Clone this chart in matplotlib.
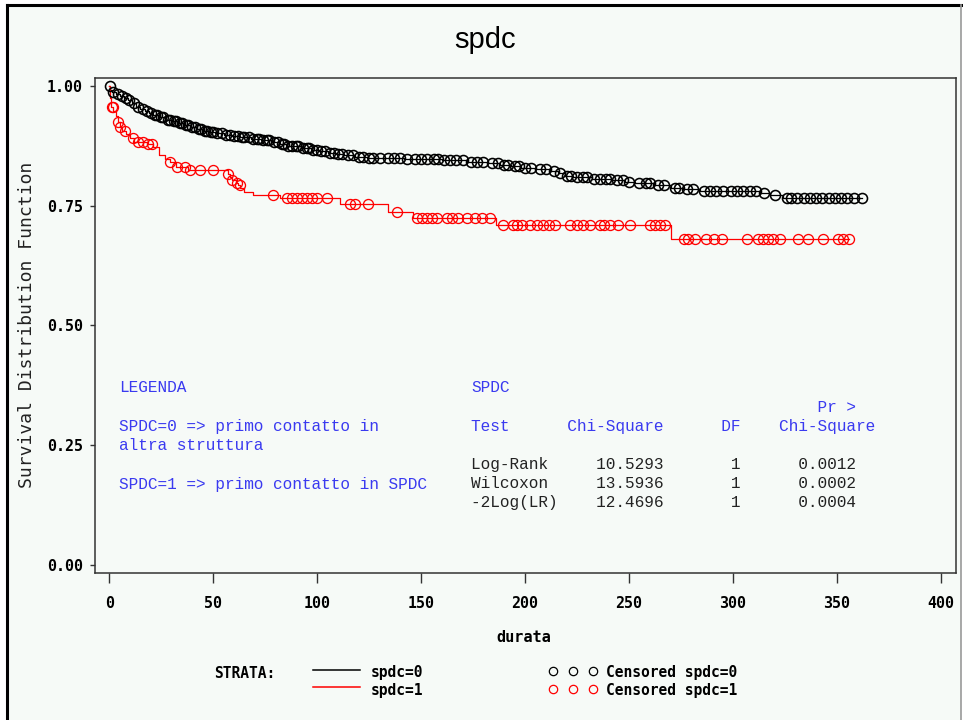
import numpy as np
import matplotlib
matplotlib.use("Agg")
import matplotlib.pyplot as plt
from matplotlib.lines import Line2D
from matplotlib.patches import Rectangle

# ---------------- data ----------------
title = "spdc"
xlabel = "durata"
ylabel = "Survival Distribution Function"
xticks = [0, 50, 100, 150, 200, 250, 300, 350, 400]
yticks = [0.00, 0.25, 0.50, 0.75, 1.00]

# spdc=0 : event times and survival after each event
black_t = [0.5, 1.5, 3, 5, 7, 9, 11, 13, 15, 17, 19, 21, 24, 27, 30, 33, 36, 39, 42, 45,
           48, 51, 55, 59, 63, 68, 73, 78, 82, 85, 92, 97, 101, 105, 109, 113, 118, 124,
           142, 160, 172, 182, 188, 193, 198, 205, 212, 216, 219, 223, 232, 242, 248, 253,
           262, 270, 276, 284, 313, 318, 324]
black_s = [0.992, 0.987, 0.983, 0.979, 0.975, 0.970, 0.964, 0.957, 0.952, 0.948, 0.944,
           0.940, 0.935, 0.930, 0.927, 0.923, 0.919, 0.914, 0.911, 0.907, 0.904, 0.901,
           0.898, 0.895, 0.893, 0.890, 0.888, 0.884, 0.879, 0.874, 0.870, 0.867, 0.864,
           0.861, 0.858, 0.855, 0.852, 0.850, 0.847, 0.845, 0.842, 0.840, 0.836, 0.832,
           0.829, 0.826, 0.823, 0.818, 0.812, 0.809, 0.806, 0.803, 0.800, 0.797, 0.794,
           0.788, 0.785, 0.780, 0.776, 0.772, 0.766]
black_end = 362
black_cens = [0.3, 2, 4, 6, 8, 9.5, 12, 14, 16, 18, 20, 22, 23, 25, 26, 28, 29, 31, 32, 34,
              35, 37, 38, 40, 41, 43, 44, 46, 47, 49, 50, 52, 54, 56, 58, 60, 62, 64, 65,
              67, 69, 71, 72, 74, 76, 77, 79, 81, 83, 84, 86, 88, 90, 91, 93, 95, 96, 98,
              100, 102, 104, 106, 108, 110, 112, 115, 117, 120, 122, 125, 127, 130, 134,
              137, 140, 143, 147, 150, 153, 156, 158, 161, 164, 167, 170, 174, 177, 180,
              184, 187, 190, 192, 195, 197, 200, 203, 207, 210, 214, 217, 220, 222, 225,
              228, 230, 233, 236, 239, 241, 244, 247, 250, 255, 258, 260, 264, 267, 272,
              274, 278, 281, 286, 289, 292, 295, 299, 302, 305, 308, 311, 315, 320, 326,
              328, 331, 334, 337, 340, 343, 346, 349, 352, 355, 358, 362]

# spdc=1
red_t = [0.5, 1, 2, 3, 4, 5, 6, 8, 10, 12, 18, 21, 24, 27, 29, 32, 38, 57, 58, 59, 61, 62,
         63, 65, 69, 82, 111, 134, 146, 186, 270]
red_s = [0.975, 0.957, 0.947, 0.937, 0.925, 0.915, 0.907, 0.900, 0.892, 0.884, 0.879,
         0.873, 0.856, 0.848, 0.841, 0.831, 0.825, 0.817, 0.810, 0.804, 0.797, 0.793,
         0.787, 0.779, 0.772, 0.766, 0.754, 0.737, 0.724, 0.710, 0.681]
red_end = 356
red_cens = [1.2, 1.8, 4.2, 5.1, 7.5, 11.4, 13.8, 16.2, 18.6, 20.5, 29, 32.6, 36.4, 38.8,
            43.6, 49.8, 57, 59, 61.4, 62.9, 78.7, 85.5, 87.9, 90.3, 92.7, 95, 97.5, 99.9,
            104.7, 115.8, 118, 124.4, 138.4, 148, 150.4, 152.8, 155.2, 157.6, 162.4, 164.8,
            167.7, 172, 175.9, 179.3, 183.1, 189.4, 194.2, 196.1, 198.5, 202.3, 205.7,
            208.6, 211.5, 214.4, 221.6, 225, 227.9, 231.3, 236.1, 238, 240.9, 244.8, 250.5,
            260.1, 262.5, 264.9, 267.3, 276.4, 278.4, 281.7, 287, 290.9, 294.7, 306.8, 312,
            314.5, 316.8, 319.2, 322.6, 331.2, 336.1, 343.3, 350.5, 352.9, 355.8]

legend_lines = ["LEGENDA", "", "SPDC=0 => primo contatto in", "altra struttura", "",
                "SPDC=1 => primo contatto in SPDC"]
test_names = ["Log-Rank", "Wilcoxon", "-2Log(LR)"]
test_chi = ["10.5293", "13.5936", "12.4696"]
test_df = ["1", "1", "1"]
test_p = ["0.0012", "0.0002", "0.0004"]

# ---------------- style ----------------
BG = "#F6FAF7"
BLUE = "#3A3AF0"
W, H = 963, 720

def fx(px):
    return px / W

def fy(py):
    return 1 - py / H

fig = plt.figure(figsize=(W / 100, H / 100), dpi=100)
fig.patch.set_facecolor("white")
fig.add_artist(Rectangle((fx(7), 0), fx(961) - fx(7), fy(5), transform=fig.transFigure,
                         facecolor=BG, edgecolor="none", zorder=-10))
fig.add_artist(Line2D([fx(7), fx(7)], [0, fy(5)], color="black", lw=2.2, transform=fig.transFigure))
fig.add_artist(Line2D([fx(7), fx(961)], [fy(5), fy(5)], color="black", lw=2.2, transform=fig.transFigure))
fig.add_artist(Line2D([fx(961), fx(961)], [0, fy(5)], color="#999999", lw=1.2, transform=fig.transFigure))

ax = fig.add_axes([fx(95), fy(573), fx(956) - fx(95), fy(78) - fy(573)])
ax.set_facecolor(BG)
ax.set_xlim(-6.88, 407.3)
ax.set_ylim(-0.0167, 1.0167)
for sp in ax.spines.values():
    sp.set_color("#333333")
    sp.set_linewidth(1.1)

tickfont = dict(family="DejaVu Sans Mono", weight="bold", size=10.8)
ax.set_xticks(xticks)
ax.set_xticklabels([str(v) for v in xticks], fontdict=tickfont)
ax.set_yticks(yticks)
ax.set_yticklabels([f"{v:.2f}" for v in yticks], fontdict=tickfont)
ax.tick_params(axis="x", direction="out", length=7.2, width=1, pad=9, color="#333333")
ax.tick_params(axis="y", direction="out", length=3.6, width=1, pad=5, color="#333333")


def km_plot(t, s, end, cens, color, mew):
    xs = [0] + list(t) + [end]
    ys = [1.0] + list(s) + [s[-1]]
    ax.step(xs, ys, where="post", color=color, lw=0.9, zorder=2)
    t_arr = np.array(t)
    s_arr = np.array(s)
    idx = np.searchsorted(t_arr, np.array(cens), side="right")
    cy = np.where(idx == 0, 1.0, s_arr[np.maximum(idx - 1, 0)])
    ax.plot(cens, cy, linestyle="none", marker="o", markersize=7.2, mfc="none",
            mec=color, mew=mew, zorder=3)


km_plot(black_t, black_s, black_end, black_cens, "black", 1.15)
km_plot(red_t, red_s, red_end, red_cens, "#FF0000", 0.95)

# title and axis labels
fig.text(fx(485), fy(40), title, ha="center", va="center", fontsize=21,
         family="Liberation Sans", color="black")
fig.text(fx(524), fy(638), xlabel, ha="center", va="center", fontsize=11,
         family="DejaVu Sans Mono", weight="bold")
fig.text(fx(27), fy(325), ylabel, ha="center", va="center", rotation=90, fontsize=13,
         family="DejaVu Sans Mono", color="#222222")

# annotation blocks
mono = dict(family="Liberation Mono", fontsize=11.6)
ys_left = [387, 407, 427, 446, 466, 485]
for line, yy in zip(legend_lines, ys_left):
    if line:
        fig.text(fx(119), fy(yy), line, ha="left", va="center", color=BLUE, **mono)

x0 = fx(471)
fig.text(x0, fy(388), "SPDC", ha="left", va="center", color=BLUE, **mono)
fig.text(x0, fy(407), " " * 36 + "Pr >", ha="left", va="center", color=BLUE, **mono)
fig.text(x0, fy(427), "Test" + " " * 6 + "Chi-Square" + " " * 6 + "DF" + " " * 4 + "Chi-Square",
         ha="left", va="center", color=BLUE, **mono)
for i, yy in enumerate([465, 484, 503]):
    row = f"{test_names[i]:<13}{test_chi[i]:>7}{test_df[i]:>8}{test_p[i]:>12}"
    fig.text(x0, fy(yy), row, ha="left", va="center", color="#222222", **mono)

# bottom legend
legfont = dict(family="DejaVu Sans Mono", weight="bold", fontsize=10.5)
fig.text(fx(214), fy(673), "STRATA:", ha="left", va="center", **legfont)
fig.add_artist(Line2D([fx(313), fx(360)], [fy(670), fy(670)], color="black", lw=1.1,
                      transform=fig.transFigure))
fig.add_artist(Line2D([fx(313), fx(360)], [fy(687), fy(687)], color="#FF0000", lw=1.1,
                      transform=fig.transFigure))
fig.text(fx(371), fy(673), "spdc=0", ha="left", va="center", **legfont)
fig.text(fx(371), fy(691), "spdc=1", ha="left", va="center", **legfont)
for cx in [553, 573, 593]:
    fig.add_artist(Line2D([fx(cx)], [fy(671)], marker="o", markersize=6, mfc="none",
                          mec="black", mew=0.9, linestyle="none", transform=fig.transFigure))
    fig.add_artist(Line2D([fx(cx)], [fy(689)], marker="o", markersize=6, mfc="none",
                          mec="#FF0000", mew=0.9, linestyle="none", transform=fig.transFigure))
fig.text(fx(606), fy(673), "Censored spdc=0", ha="left", va="center", **legfont)
fig.text(fx(606), fy(691), "Censored spdc=1", ha="left", va="center", **legfont)

fig.savefig("out.png", dpi=100, facecolor=fig.get_facecolor())
